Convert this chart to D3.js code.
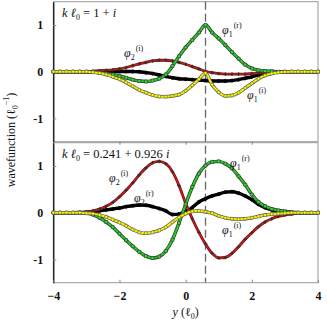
<!DOCTYPE html>
<html>
<head>
<meta charset="utf-8">
<script src="https://cdn.jsdelivr.net/npm/d3@7"></script>
<style>
  body { margin: 0; background: #fff; }
  svg text { font-family: "Liberation Serif", "Times New Roman", serif; fill: #111; }
</style>
</head>
<body>
<div id="chart"></div>
<script>
// x positions (y in units of l0), step 0.2
const xs = d3.range(41).map(i => -4 + i * 0.2)

// top panel, k l0 = 1 + i
const topGreen = [0,0,0,0,0,0,-0.01,-0.02,-0.04,-0.06,-0.09,-0.13,-0.17,-0.2,-0.21,-0.19,-0.15,-0.06,0.12,0.33,0.52,0.68,0.84,1.0,0.84,0.71,0.57,0.42,0.28,0.15,0.07,0.03,0.015,0.01,0,0,0,0,0,0,0]
const topYellow = [0,0,0,0,0,0,-0.01,-0.03,-0.06,-0.11,-0.16,-0.23,-0.31,-0.39,-0.45,-0.5,-0.53,-0.535,-0.52,-0.49,-0.41,-0.29,-0.16,-0.03,-0.28,-0.44,-0.52,-0.51,-0.45,-0.35,-0.25,-0.15,-0.08,-0.04,-0.015,-0.005,0,0,0,0,0]
const topBlack = [0,0,0,0,0,0,0,0.003,0.005,0.005,0.005,0.005,0.003,0,-0.02,-0.04,-0.07,-0.1,-0.13,-0.15,-0.16,-0.17,-0.18,-0.19,-0.2,-0.2,-0.2,-0.19,-0.17,-0.14,-0.11,-0.07,-0.04,-0.02,-0.01,0,0,0,0,0,0]
const topRed = [0,0,0,0,0,0,0.01,0.02,0.03,0.04,0.06,0.09,0.13,0.17,0.2,0.23,0.245,0.245,0.23,0.2,0.16,0.11,0.06,0.01,-0.02,-0.04,-0.05,-0.05,-0.05,-0.05,-0.04,-0.03,-0.02,-0.01,0,0,0,0,0,0,0]

// bottom panel, k l0 = 0.241 + 0.926 i
const botRed = [0,0,0,0,0.005,0.01,0.04,0.08,0.14,0.22,0.34,0.48,0.64,0.81,0.96,1.07,1.1,1.05,0.88,0.58,0.2,-0.13,-0.42,-0.67,-0.87,-0.97,-0.96,-0.87,-0.73,-0.57,-0.43,-0.3,-0.2,-0.13,-0.08,-0.05,-0.03,-0.01,0,0,0]
const botGreen = [0,0,0,0,0,-0.01,-0.04,-0.11,-0.2,-0.31,-0.45,-0.59,-0.72,-0.84,-0.93,-0.97,-0.94,-0.82,-0.58,-0.22,0.18,0.55,0.84,1.01,1.09,1.1,1.05,0.95,0.78,0.6,0.39,0.23,0.14,0.08,0.05,0.03,0.01,0,0,0,0]
const botBlack = [0,0,0,0,0.005,0.01,0.02,0.04,0.06,0.08,0.1,0.13,0.15,0.165,0.16,0.13,0.09,0.04,-0.04,-0.03,0.03,0.11,0.23,0.3,0.36,0.4,0.44,0.45,0.42,0.36,0.28,0.18,0.11,0.06,0.03,0.015,0.005,0,0,0,0]
const botYellow = [0,0,0,0,0,-0.01,-0.02,-0.05,-0.09,-0.15,-0.21,-0.28,-0.36,-0.42,-0.44,-0.42,-0.38,-0.31,-0.2,-0.1,-0.02,0.03,0.04,0.02,-0.01,-0.07,-0.11,-0.13,-0.14,-0.13,-0.11,-0.08,-0.05,-0.03,-0.02,-0.01,0,0,0,0,0]

const xTicks = [-4, -2, 0, 2, 4]
const yTicks = [-1, 0, 1]
const cutY = 0.6

const width = 327, height = 328

const svg = d3.select("#chart").append("svg")
  .attr("width", width)
  .attr("height", height)

const x = d3.scaleLinear().domain([-4, 4]).range([53.3, 318])
const yTop = d3.scaleLinear().domain([-1.5, 1.5]).range([141.7, 1.7])
const yBot = d3.scaleLinear().domain([-1.5, 1.5]).range([282.7, 142.7])

// frames
;[yTop, yBot].forEach(y => {
  svg.append("rect")
    .attr("x", x(-4)).attr("y", y(1.5))
    .attr("width", x(4) - x(-4)).attr("height", y(-1.5) - y(1.5))
    .attr("fill", "none").attr("stroke", "#999").attr("stroke-width", 1)
})

// y axes
;[yTop, yBot].forEach(y => {
  const g = svg.append("g")
    .attr("transform", "translate(" + x(-4) + ",0)")
    .call(d3.axisLeft(y).tickValues(yTicks).tickSize(-3).tickSizeOuter(0).tickPadding(10)
      .tickFormat(d => d))
  g.select(".domain").attr("stroke", "#000").attr("stroke-width", 1.2)
  g.selectAll(".tick line").attr("stroke", "#888")
  g.selectAll(".tick text").style("font-size", "12px").style("font-weight", "bold").attr("fill", "#222")
})

// x axis ticks: top panel (pointing down) and bottom axis
svg.append("g")
  .attr("transform", "translate(0," + yTop(-1.5) + ")")
  .call(d3.axisBottom(x).tickValues([-2, 0, 2]).tickSize(3).tickFormat(""))
  .call(g => g.select(".domain").remove())
  .selectAll(".tick line").attr("stroke", "#888")

const xAxis = svg.append("g")
  .attr("transform", "translate(0," + yBot(-1.5) + ")")
  .call(d3.axisBottom(x).tickValues(xTicks).tickSize(-3).tickSizeOuter(0).tickPadding(8.5))
xAxis.select(".domain").remove()
xAxis.selectAll(".tick line").attr("stroke", "#888")
xAxis.selectAll(".tick text").style("font-size", "12px").style("font-weight", "bold").attr("fill", "#222")

// dashed cut line
svg.append("line")
  .attr("x1", x(cutY)).attr("x2", x(cutY))
  .attr("y1", yTop(1.5)).attr("y2", yBot(-1.5))
  .attr("stroke", "#666").attr("stroke-width", 1.3)
  .attr("stroke-dasharray", "8,4")

// series: dark casing, coloured line on top, small markers at the data points
function drawSeries(y, vals, style) {
  const pts = xs.map((xv, i) => [xv, vals[i]])
  const line = d3.line()
    .x(d => x(d[0])).y(d => y(d[1]))
    .curve(d3.curveMonotoneX)
  if (style.casing) {
    svg.append("path").datum(pts).attr("d", line)
      .attr("fill", "none").attr("stroke", style.casing)
      .attr("stroke-width", style.lineWidth + 1.4)
  }
  svg.append("path")
    .datum(pts)
    .attr("d", line)
    .attr("fill", "none")
    .attr("stroke", style.line)
    .attr("stroke-width", style.lineWidth)
  const sym = d3.symbol().type(style.shape).size(style.size)
  svg.append("g").selectAll("path")
    .data(pts)
    .enter().append("path")
    .attr("d", sym)
    .attr("transform", d => "translate(" + x(d[0]) + "," + y(d[1]) + ")")
    .attr("fill", style.fill)
    .attr("stroke", style.stroke)
    .attr("stroke-width", 0.6)
}

const sBlack = { line: "#000", lineWidth: 3.4, shape: d3.symbolCircle, size: 8, fill: "#000", stroke: "#000" }
const sRed = { casing: "#6a1010", line: "#d81818", lineWidth: 1.4, shape: d3.symbolCross, size: 7, fill: "#333", stroke: "none" }
const sGreen = { casing: "#333", line: "#22cc22", lineWidth: 2, shape: d3.symbolSquare, size: 9, fill: "#33dd33", stroke: "#333" }
const sYellow = { casing: "#555", line: "#f4f000", lineWidth: 2, shape: d3.symbolCircle, size: 8, fill: "#ffff00", stroke: "#555" }

drawSeries(yTop, topBlack, sBlack)
drawSeries(yTop, topRed, sRed)
drawSeries(yTop, topGreen, sGreen)
drawSeries(yTop, topYellow, sYellow)

drawSeries(yBot, botBlack, sBlack)
drawSeries(yBot, botRed, sRed)
drawSeries(yBot, botGreen, sGreen)
drawSeries(yBot, botYellow, sYellow)

// panel titles
function kLabel(px, py, rest) {
  const t = svg.append("text").attr("x", px).attr("y", py).style("font-size", "12.5px")
  t.append("tspan").style("font-style", "italic").text("k \u2113")
  t.append("tspan").attr("dy", 3).style("font-size", "8px").text("0")
  t.append("tspan").attr("dy", -3).text(rest)
  t.append("tspan").style("font-style", "italic").text("i")
}
kLabel(62, 17, " = 1 + ")
kLabel(62, 158, " = 0.241 + 0.926 ")

// curve labels
function phiLabel(px, py, sub, sup) {
  const t = svg.append("text").attr("x", px).attr("y", py).style("font-size", "12px")
  t.append("tspan").style("font-style", "italic").text("\u03c6")
  t.append("tspan").attr("dy", 3).style("font-size", "8px").text(sub)
  t.append("tspan").attr("dy", -9).attr("dx", 1).style("font-size", "8px").text("(" + sup + ")")
}
phiLabel(124, 57, "2", "i")
phiLabel(222, 34, "1", "r")
phiLabel(247, 99, "1", "i")
phiLabel(109, 182, "2", "i")
phiLabel(134, 202, "2", "r")
phiLabel(230, 167, "1", "r")
phiLabel(222, 234, "1", "i")

// axis titles
const xt = svg.append("text")
  .attr("x", x(0)).attr("y", 316)
  .attr("text-anchor", "middle")
  .style("font-size", "12px")
xt.append("tspan").style("font-style", "italic").text("y")
xt.append("tspan").text(" (\u2113")
xt.append("tspan").attr("dy", 3).style("font-size", "8px").text("0")
xt.append("tspan").attr("dy", -3).text(")")

const yt = svg.append("text")
  .attr("transform", "translate(15,140) rotate(-90)")
  .attr("text-anchor", "middle")
  .style("font-size", "12px")
yt.append("tspan").text("wavefunction (\u2113")
yt.append("tspan").attr("dy", 3).style("font-size", "8px").text("0")
yt.append("tspan").attr("dy", -9).style("font-size", "8px").text("\u22121")
yt.append("tspan").attr("dy", 6).text(")")
</script>
</body>
</html>
